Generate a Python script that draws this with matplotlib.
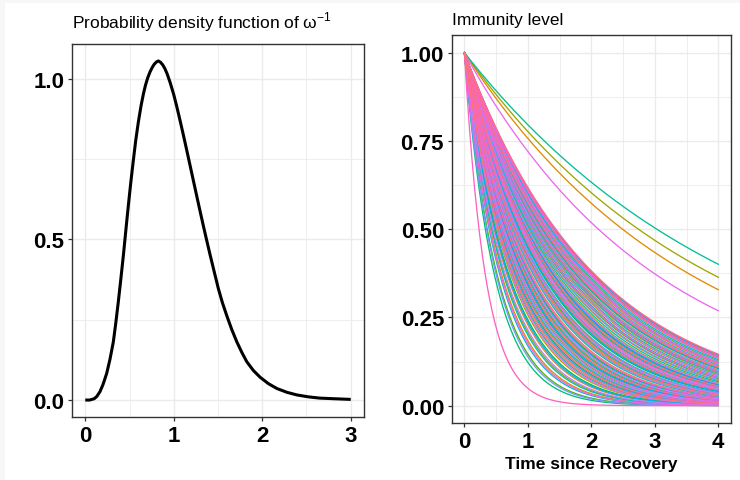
import numpy as np
import matplotlib
matplotlib.use("Agg")
import matplotlib.pyplot as plt
from matplotlib.patches import Rectangle
from matplotlib.ticker import MultipleLocator

# ---------------- data ----------------
# Left panel: probability density of omega^-1
pdf_x = [0.00, 0.05, 0.10, 0.13, 0.166, 0.20, 0.242, 0.28, 0.317, 0.345, 0.373, 0.40, 0.43,
         0.458, 0.486, 0.515, 0.543, 0.57, 0.60, 0.63, 0.656, 0.68, 0.705, 0.732, 0.757,
         0.78, 0.805, 0.826, 0.85, 0.875, 0.90, 0.925, 0.96, 1.00, 1.034, 1.07, 1.109,
         1.146, 1.184, 1.222, 1.26, 1.30, 1.335, 1.37, 1.41, 1.455, 1.505, 1.55, 1.60,
         1.655, 1.713, 1.77, 1.826, 1.90, 1.976, 2.07, 2.165, 2.28, 2.39, 2.52, 2.65,
         2.82, 3.00]
pdf_y = [0.000, 0.000, 0.004, 0.011, 0.026, 0.048, 0.083, 0.128, 0.181, 0.240, 0.305, 0.372, 0.449,
         0.527, 0.604, 0.679, 0.746, 0.808, 0.866, 0.916, 0.952, 0.980, 1.003, 1.022, 1.036,
         1.046, 1.053, 1.056, 1.052, 1.044, 1.032, 1.016, 0.988, 0.951, 0.914, 0.872, 0.825,
         0.779, 0.731, 0.683, 0.635, 0.585, 0.542, 0.500, 0.453, 0.402, 0.346, 0.303, 0.262,
         0.220, 0.181, 0.148, 0.119, 0.092, 0.071, 0.051, 0.036, 0.024, 0.016, 0.010, 0.006,
         0.004, 0.002]

# Right panel: half-life (time to reach immunity 0.5) of each immunity curve, in drawing order
half_lives = [
    0.92, 0.55, 1.21, 0.74, 1.38, 0.47, 1.05, 0.66, 2.49, 0.83,
    1.12, 0.41, 0.97, 1.30, 0.59, 0.78, 1.43, 0.51, 0.88, 1.16,
    0.69, 2.74, 1.01, 0.44, 1.26, 0.80, 0.62, 1.34, 0.94, 0.36,
    1.08, 0.72, 1.19, 0.57, 0.86, 1.40, 0.49, 0.99, 0.64, 1.23,
    0.33, 0.90, 1.14, 3.03, 0.76, 0.53, 1.32, 0.68, 1.03, 0.43,
    1.28, 0.81, 0.60, 1.17, 0.95, 0.39, 1.36, 0.71, 0.87, 1.10,
    0.48, 1.24, 0.65, 0.98, 1.42, 0.56, 0.84, 1.06, 0.35, 0.77,
    1.20, 0.61, 0.91, 1.33, 0.45, 1.13, 0.70, 1.00, 0.52, 1.27,
    0.82, 2.11, 0.63, 1.39, 0.93, 0.40, 1.09, 0.73, 1.31, 0.23,
    1.18, 0.58, 1.41, 0.89, 0.67, 1.44, 0.79, 0.96, 1.25, 0.54,
]
t_max = 4.0

left_title = "Probability density function of ω$^{\\mathregular{-1}}$"
right_title = "Immunity level"
right_xlabel = "Time since Recovery"
left_xticks = [0, 1, 2, 3]
left_yticks = [0.0, 0.5, 1.0]
right_xticks = [0, 1, 2, 3, 4]
right_yticks = [0.0, 0.25, 0.5, 0.75, 1.0]


# ---------------- style helpers ----------------
def hcl_to_rgb(h, c, l):
    hr = np.deg2rad(h)
    u, v = c * np.cos(hr), c * np.sin(hr)
    Xn, Yn, Zn = 95.047, 100.0, 108.883
    den = Xn + 15 * Yn + 3 * Zn
    un, vn = 4 * Xn / den, 9 * Yn / den
    Y = Yn * ((l + 16) / 116) ** 3 if l > 8 else Yn * l / 903.3
    up = u / (13 * l) + un
    vp = v / (13 * l) + vn
    X = Y * 9 * up / (4 * vp)
    Z = Y * (12 - 3 * up - 20 * vp) / (4 * vp)
    X, Y, Z = X / 100, Y / 100, Z / 100
    r = 3.2404542 * X - 1.5371385 * Y - 0.4985314 * Z
    g = -0.9692660 * X + 1.8760108 * Y + 0.0415560 * Z
    b = 0.0556434 * X - 0.2040259 * Y + 1.0572252 * Z
    out = []
    for ch in (r, g, b):
        ch = 12.92 * ch if ch <= 0.0031308 else 1.055 * ch ** (1 / 2.4) - 0.055
        out.append(min(max(ch, 0), 1))
    return tuple(out)


def hue_pal(n):
    hues = np.linspace(15, 375, n + 1)[:n]
    return [hcl_to_rgb(h % 360, 100, 65) for h in hues]


plt.rcParams['font.family'] = ['Liberation Sans', 'DejaVu Sans']
plt.rcParams['mathtext.fontset'] = 'dejavusans'

W, H = 740, 481
fig = plt.figure(figsize=(W / 100, H / 100), dpi=100)
fig.patch.set_facecolor('#F7F7F7')
fig.add_artist(Rectangle((5 / W, 0), 1 - 5 / W, 1 - 4 / H, transform=fig.transFigure,
                         facecolor='white', edgecolor='none', zorder=-10))

grid_col = '#EBEBEB'
border_col = '#333333'


def style_axes(ax, xmajor, ymajor, xminor, yminor):
    ax.set_facecolor('white')
    ax.xaxis.set_major_locator(MultipleLocator(xmajor))
    ax.yaxis.set_major_locator(MultipleLocator(ymajor))
    ax.xaxis.set_minor_locator(MultipleLocator(xminor))
    ax.yaxis.set_minor_locator(MultipleLocator(yminor))
    ax.grid(which='major', color=grid_col, linewidth=1.0, zorder=0)
    ax.grid(which='minor', color=grid_col, linewidth=0.6, zorder=0)
    ax.set_axisbelow(True)
    for s in ax.spines.values():
        s.set_color(border_col)
        s.set_linewidth(1.0)
    ax.tick_params(which='major', length=3.0, width=0.9, color=border_col, pad=2.5,
                   labelsize=16, labelcolor='black')
    ax.tick_params(which='minor', length=0)


# ---------------- left panel ----------------
ax1 = fig.add_axes([72 / W, (H - 418) / H, 292 / W, 373 / H])
ax1.plot(pdf_x, pdf_y, color='black', linewidth=2.2, solid_capstyle='butt',
         solid_joinstyle='round', zorder=3)
xr = max(pdf_x) - min(pdf_x)
yr = max(pdf_y) - min(pdf_y)
ax1.set_xlim(min(pdf_x) - 0.05 * xr, max(pdf_x) + 0.05 * xr)
ax1.set_ylim(min(pdf_y) - 0.05 * yr, max(pdf_y) + 0.05 * yr)
style_axes(ax1, 1, 0.5, 0.5, 0.25)
ax1.set_xticks(left_xticks)
ax1.set_yticks(left_yticks)
ax1.set_xticklabels([str(v) for v in left_xticks], fontweight='bold')
ax1.set_yticklabels([f"{v:.1f}" for v in left_yticks], fontweight='bold')
ax1.set_title(left_title, loc='left', fontsize=12.5, pad=12, color='black')

# ---------------- right panel ----------------
ax2 = fig.add_axes([451.7 / W, (H - 424.3) / H, 279.3 / W, 388.3 / H])
colors = hue_pal(len(half_lives))
t = np.linspace(0, t_max, 300)
for hl, col in zip(half_lives, colors):
    ax2.plot(t, 0.5 ** (t / hl), color=col, linewidth=0.95, zorder=3)
ax2.set_xlim(-0.05 * t_max, t_max * 1.05)
ax2.set_ylim(-0.05, 1.05)
style_axes(ax2, 1, 0.25, 0.5, 0.125)
ax2.set_xticks(right_xticks)
ax2.set_yticks(right_yticks)
ax2.set_xticklabels([str(v) for v in right_xticks], fontweight='bold')
ax2.set_yticklabels([f"{v:.2f}" for v in right_yticks], fontweight='bold')
ax2.set_title(right_title, loc='left', fontsize=12.5, pad=8, color='black')
ax2.set_xlabel(right_xlabel, fontsize=12.5, fontweight='bold', labelpad=3)

fig.savefig('out.png', dpi=100, facecolor=fig.get_facecolor())
